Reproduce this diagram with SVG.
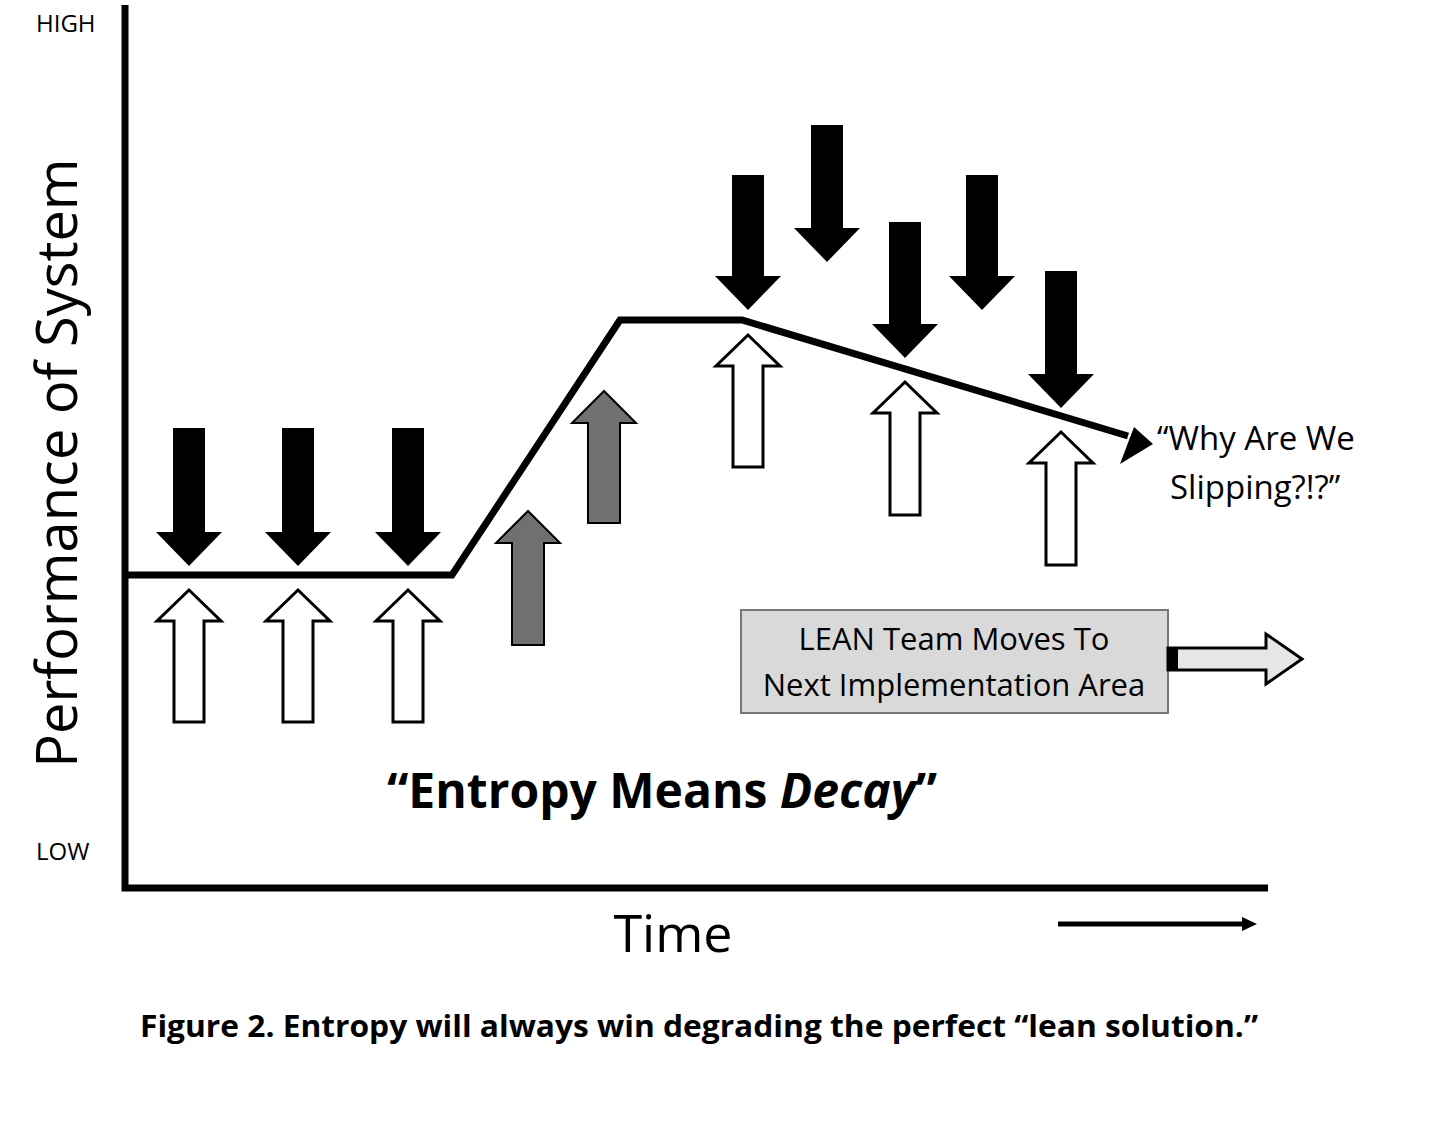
<svg xmlns="http://www.w3.org/2000/svg" width="1440" height="1137" viewBox="0 0 1440 1137">
<style>
text{font-family:"Open Sans","Liberation Sans",sans-serif;fill:#000}
.blk{fill:#000}
.wht{fill:#fff;stroke:#000;stroke-width:3}
.gry{fill:#707070;stroke:#000;stroke-width:2}
.ax{stroke:#000;stroke-width:7;fill:none}
</style>
<rect width="1440" height="1137" fill="#fff"/>
<g id="axes">
<path class="ax" d="M125,5 V888 H1268"/>
<text x="36" y="32" font-size="24">HIGH</text>
<text x="36" y="860" font-size="24">LOW</text>
<text transform="translate(77,463) rotate(-90)" text-anchor="middle" font-size="56">Performance of System</text>
<text x="673" y="952" text-anchor="middle" font-size="52">Time</text>
<line x1="1058" y1="924" x2="1246" y2="924" stroke="#000" stroke-width="5"/>
<path d="M1242,917 L1257,924 L1242,931Z" fill="#000"/>
</g>
<g id="connectors">
<polyline points="125,575 452,575 620,320 742,320 1128,436" fill="none" stroke="#000" stroke-width="7"/>
<path d="M1153,444 L1120,464 L1134,427Z" fill="#000"/>
</g>
<g id="down-arrows">
<path class="blk" d="M189,566 L156,532 L173,532 L173,428 L205,428 L205,532 L222,532Z"/>
<path class="blk" d="M298,566 L265,532 L282,532 L282,428 L314,428 L314,532 L331,532Z"/>
<path class="blk" d="M408,566 L375,532 L392,532 L392,428 L424,428 L424,532 L441,532Z"/>
<path class="blk" d="M748,310 L715,276 L732,276 L732,175 L764,175 L764,276 L781,276Z"/>
<path class="blk" d="M827,262 L794,228 L811,228 L811,125 L843,125 L843,228 L860,228Z"/>
<path class="blk" d="M905,358 L872,324 L889,324 L889,222 L921,222 L921,324 L938,324Z"/>
<path class="blk" d="M982,310 L949,276 L966,276 L966,175 L998,175 L998,276 L1015,276Z"/>
<path class="blk" d="M1061,408 L1028,374 L1045,374 L1045,271 L1077,271 L1077,374 L1094,374Z"/>
</g>
<g id="up-arrows">
<path class="wht" d="M189,590 L157,621 L174,621 L174,722 L204,722 L204,621 L221,621Z"/>
<path class="wht" d="M298,590 L266,621 L283,621 L283,722 L313,722 L313,621 L330,621Z"/>
<path class="wht" d="M408,590 L376,621 L393,621 L393,722 L423,722 L423,621 L440,621Z"/>
<path class="wht" d="M748,335 L716,366 L733,366 L733,467 L763,467 L763,366 L780,366Z"/>
<path class="wht" d="M905,382 L873,413 L890,413 L890,515 L920,515 L920,413 L937,413Z"/>
<path class="wht" d="M1061,432 L1029,463 L1046,463 L1046,565 L1076,565 L1076,463 L1093,463Z"/>
<path class="gry" d="M528,511 L496,543 L512,543 L512,645 L544,645 L544,543 L560,543Z"/>
<path class="gry" d="M604,391 L572,423 L588,423 L588,523 L620,523 L620,423 L636,423Z"/>
</g>
<g id="why">
<text x="1157" y="450" font-size="33">“Why Are We</text>
<text x="1170" y="499" font-size="33">Slipping?!?”</text>
</g>
<g id="lean-box">
<rect x="741" y="610" width="427" height="103" fill="#d9d9d9" stroke="#777" stroke-width="2"/>
<text x="954" y="650" text-anchor="middle" font-size="31">LEAN Team Moves To</text>
<text x="954" y="696" text-anchor="middle" font-size="31">Next Implementation Area</text>
<path d="M1168,648 L1266,648 L1266,634 L1302,659 L1266,684 L1266,670 L1168,670Z" fill="#e6e6e6" stroke="#000" stroke-width="3"/>
<rect x="1167" y="648" width="11" height="22" fill="#000"/>
</g>
<g id="titles">
<text x="662" y="808" text-anchor="middle" font-size="48" font-weight="bold">“Entropy Means <tspan font-style="italic">Decay</tspan>”</text>
<text x="140" y="1037" font-size="30" font-weight="bold" textLength="1118" lengthAdjust="spacingAndGlyphs">Figure 2. Entropy will always win degrading the perfect “lean solution.”</text>
</g>
</svg>
